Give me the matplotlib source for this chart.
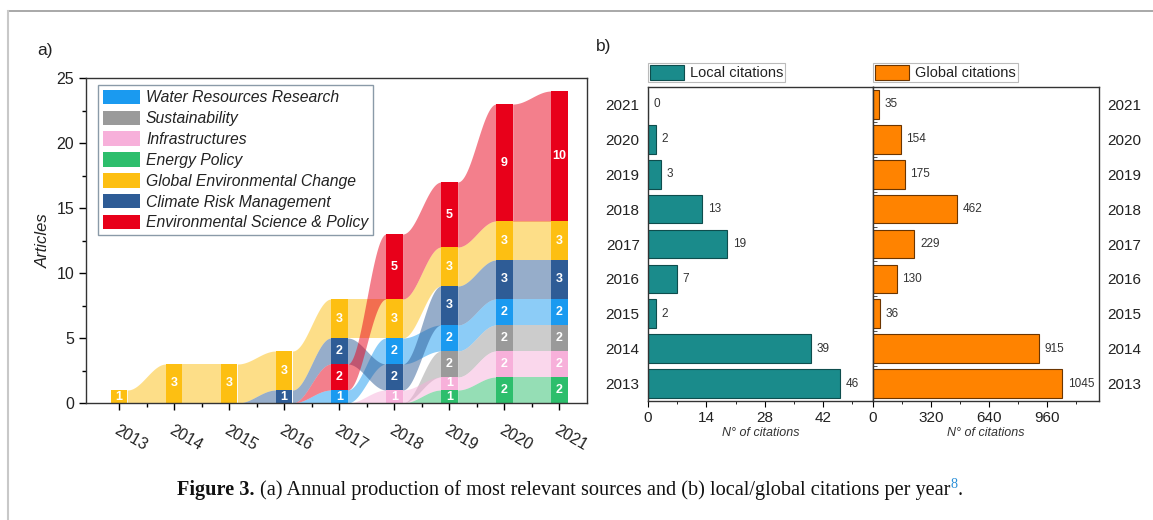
import numpy as np
import matplotlib
matplotlib.use("Agg")
import matplotlib.pyplot as plt
from matplotlib.patches import Patch
from matplotlib.lines import Line2D

plt.rcParams['font.family'] = ['Liberation Sans', 'DejaVu Sans']

# ---------------- data ----------------
years = [2013, 2014, 2015, 2016, 2017, 2018, 2019, 2020, 2021]
sources = ["Water Resources Research", "Sustainability", "Infrastructures",
           "Energy Policy", "Global Environmental Change",
           "Climate Risk Management", "Environmental Science & Policy"]
wrr = [0, 0, 0, 0, 1, 2, 2, 2, 2]
sust = [0, 0, 0, 0, 0, 0, 2, 2, 2]
infra = [0, 0, 0, 0, 0, 1, 1, 2, 2]
energy = [0, 0, 0, 0, 0, 0, 1, 2, 2]
gec = [1, 3, 3, 3, 3, 3, 3, 3, 3]
crm = [0, 0, 0, 1, 2, 2, 3, 3, 3]
esp = [0, 0, 0, 0, 2, 5, 5, 9, 10]
colors = ['#1A9AF0', '#9A9A9A', '#F7B0DA', '#2DBE6C', '#FDBF12', '#2E5C96', '#E8001A']

cit_years = [2013, 2014, 2015, 2016, 2017, 2018, 2019, 2020, 2021]
local_cit = [46, 39, 2, 7, 19, 13, 3, 2, 0]
global_cit = [1045, 915, 36, 130, 229, 462, 175, 154, 35]

W, H = 1153, 520
fig = plt.figure(figsize=(W / 100, H / 100), dpi=100)

def fx(px):
    return px / W

def fy(py):
    return 1 - py / H

# outer frame lines
fig.add_artist(Line2D([fx(8), 1.0], [fy(11), fy(11)], color='#9a9a9a', lw=1.2))
fig.add_artist(Line2D([fx(8), fx(8)], [fy(11), 0.0], color='#c8c8c8', lw=1.5))

# ---------------- panel a ----------------
axa = fig.add_axes([fx(86), fy(403), fx(587) - fx(86), fy(78) - fy(403)])
data = np.array([wrr, sust, infra, energy, gec, crm, esp], dtype=float)
nsrc, nyr = data.shape
rank = [6, 5, 4, 3, 2, 1, 0]  # tie-break: reverse legend order
bottoms = np.zeros_like(data)
tops = np.zeros_like(data)
for j in range(nyr):
    order = sorted(range(nsrc), key=lambda i: (data[i, j], rank[i]))
    acc = 0.0
    for i in order:
        bottoms[i, j] = acc
        acc += data[i, j]
        tops[i, j] = acc

bw = 0.3
# flows
for i in range(nsrc):
    for j in range(nyr - 1):
        if data[i, j] == 0 and data[i, j + 1] == 0:
            continue
        x0 = years[j] + bw / 2
        x1 = years[j + 1] - bw / 2
        t = np.linspace(0, 1, 60)
        s = (1 - np.cos(np.pi * t)) / 2
        xs = x0 + (x1 - x0) * t
        yb = bottoms[i, j] + (bottoms[i, j + 1] - bottoms[i, j]) * s
        yt = tops[i, j] + (tops[i, j + 1] - tops[i, j]) * s
        axa.fill_between(xs, yb, yt, color=colors[i], alpha=0.5, lw=0, zorder=1)
# bars
for i in range(nsrc):
    for j in range(nyr):
        if data[i, j] > 0:
            axa.bar(years[j], data[i, j], bottom=bottoms[i, j], width=bw,
                    color=colors[i], lw=0, zorder=2)
            axa.text(years[j], bottoms[i, j] + data[i, j] / 2, f"{int(data[i, j])}",
                     color='white', fontsize=9, fontweight='bold',
                     ha='center', va='center', zorder=3)

axa.set_xlim(2012.4, 2021.5)
axa.set_ylim(0, 25)
axa.set_xticks(years)
axa.set_xticks([y + 0.5 for y in years[:-1]], minor=True)
axa.set_yticks([0, 5, 10, 15, 20, 25])
axa.set_yticks(np.arange(2.5, 25, 5), minor=True)
axa.set_xticklabels([str(y) for y in years], rotation=-30, ha='left', va='top',
                    rotation_mode='anchor', fontsize=11.5, color='#222222')
axa.tick_params(axis='x', which='major', pad=9)
axa.tick_params(axis='y', labelsize=11.5, labelcolor='#222222')
axa.tick_params(which='major', length=5, width=1, direction='out')
axa.tick_params(which='minor', length=3, width=1, direction='out')
axa.set_ylabel('Articles', fontsize=12, style='italic', color='#222222', labelpad=4)
for sp in axa.spines.values():
    sp.set_linewidth(1.0)
    sp.set_color('#333333')

handles = [Patch(facecolor=c, edgecolor='none') for c in colors]
leg = axa.legend(handles, sources, loc='upper left', bbox_to_anchor=(0.024, 0.978),
                 borderaxespad=0, prop={'style': 'italic', 'size': 11.3},
                 handlelength=2.35, handleheight=1.05, labelspacing=0.33,
                 fancybox=False, edgecolor='#8a9aa8', framealpha=1,
                 borderpad=0.3, handletextpad=0.4)
leg.get_frame().set_linewidth(1.0)
for t in leg.get_texts():
    t.set_color('#222222')

fig.text(fx(37), fy(50), 'a)', fontsize=12.5, ha='left', va='center', color='#222222')
fig.text(fx(596), fy(47), 'b)', fontsize=12.5, ha='left', va='center', color='#222222')

# ---------------- panel b ----------------
yl, yr = fx(648), fx(873)
yb_, yt_ = fy(401), fy(87)
axl = fig.add_axes([yl, yb_, yr - yl, yt_ - yb_])
axg = fig.add_axes([yr, yb_, fx(1099) - yr, yt_ - yb_])
pos = np.arange(len(cit_years))

axl.barh(pos, local_cit, height=0.82, color='#1A8B8B', edgecolor='#0E4D4D', lw=0.8)
axg.barh(pos, global_cit, height=0.82, color='#FF8300', edgecolor='#6B3500', lw=0.8)
for p, v in zip(pos, local_cit):
    axl.annotate(str(v), (v, p), xytext=(4, 0), textcoords='offset points',
                 ha='left', va='center', fontsize=8.5, color='#333333')
for p, v in zip(pos, global_cit):
    axg.annotate(str(v), (v, p), xytext=(4, 0), textcoords='offset points',
                 ha='left', va='center', fontsize=8.5, color='#333333')

axl.set_xlim(0, 54)
axg.set_xlim(0, 1248)
for ax in (axl, axg):
    ax.set_ylim(-0.5, 8.5)
    ax.set_yticks(pos)
    ax.set_yticklabels([str(y) for y in cit_years])
    ax.set_yticks(pos[:-1] + 0.5, minor=True)
    ax.tick_params(axis='y', which='major', length=0, labelsize=11, labelcolor='#222222', pad=6)
    ax.tick_params(axis='x', which='major', length=4, direction='out', labelsize=11,
                   labelcolor='#222222')
    ax.tick_params(axis='x', which='minor', length=2.5, direction='out')
    ax.set_xlabel('N° of citations', fontsize=9, style='italic', color='#333333', labelpad=1)
    for sp in ax.spines.values():
        sp.set_linewidth(1.0)
        sp.set_color('#333333')
axl.set_xticks([0, 14, 28, 42])
axl.set_xticks([7, 21, 35, 49], minor=True)
axl.tick_params(axis='y', which='minor', length=0)
axg.set_xticks([0, 320, 640, 960])
axg.set_xticks([160, 480, 800, 1120], minor=True)
axg.yaxis.tick_right()
axg.tick_params(axis='y', which='major', length=0, labelsize=11, pad=6)
axg.tick_params(axis='y', which='minor', left=True, right=False, length=3,
                direction='in', color='#333333')

for ax, lab, fc, ec in ((axl, 'Local citations', '#1A8B8B', '#0E4D4D'),
                        (axg, 'Global citations', '#FF8300', '#6B3500')):
    lg = ax.legend([Patch(facecolor=fc, edgecolor=ec, lw=0.8)], [lab],
                   loc='lower left', bbox_to_anchor=(0.0, 1.015), borderaxespad=0,
                   fontsize=10.5, handlelength=2.3, handleheight=1.2,
                   fancybox=False, edgecolor='#bbbbbb', framealpha=1,
                   borderpad=0.15, handletextpad=0.4)
    lg.get_frame().set_linewidth(0.8)
    lg.get_texts()[0].set_color('#222222')

# ---------------- caption ----------------
fig.canvas.draw()
r = fig.canvas.get_renderer()
cap_y = fy(495)
fs = 14.6
pieces = [
    ('Figure 3.', dict(fontweight='bold', fontsize=fs, color='#111111'), 0),
    (' ', dict(fontsize=fs), 0),
    ('(a) Annual production of most relevant sources and (b) local/global citations per year',
     dict(fontsize=fs, color='#111111'), 0),
    ('8', dict(fontsize=fs * 0.7, color='#2A8FD8'), 7),
    ('.', dict(fontsize=fs, color='#111111'), 0),
]
texts = []
widths = []
for s, kw, dy in pieces:
    t = fig.text(0, cap_y, s if s.strip() else 'a a', family='Liberation Serif',
                 ha='left', va='baseline', **kw)
    bb = t.get_window_extent(r)
    if not s.strip():
        t2 = fig.text(0, cap_y, 'aa', family='Liberation Serif', **kw)
        w = bb.width - t2.get_window_extent(r).width
        t2.remove()
        t.set_text('')
    else:
        w = bb.width
    texts.append((t, dy))
    widths.append(w)
total = sum(widths)
x = 570 - total / 2
for (t, dy), w in zip(texts, widths):
    t.set_x(fx(x))
    t.set_y(cap_y + dy / H)
    x += w

fig.savefig('out.png', dpi=100)
